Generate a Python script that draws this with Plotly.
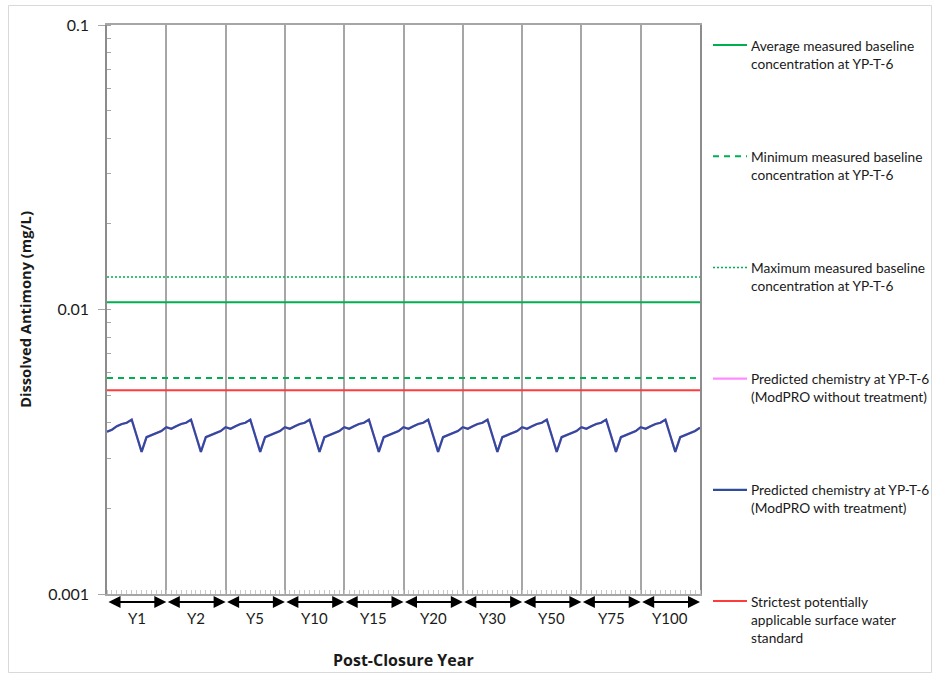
import plotly.graph_objects as go

# ---------------- data ----------------
year_labels = ["Y1", "Y2", "Y5", "Y10", "Y15", "Y20", "Y30", "Y50", "Y75", "Y100"]
months = list(range(121))  # monthly steps across the 10 displayed years (+ closing point)

with_treatment = [
    0.00372, 0.00378, 0.00389, 0.00396, 0.00400, 0.00410, 0.00360, 0.00316, 0.00356, 0.00362, 0.00366, 0.00374,
    0.00386, 0.00381, 0.00389, 0.00396, 0.00400, 0.00410, 0.00360, 0.00316, 0.00356, 0.00362, 0.00366, 0.00374,
    0.00386, 0.00381, 0.00389, 0.00396, 0.00400, 0.00410, 0.00360, 0.00316, 0.00356, 0.00362, 0.00366, 0.00374,
    0.00386, 0.00381, 0.00389, 0.00396, 0.00400, 0.00410, 0.00360, 0.00316, 0.00356, 0.00362, 0.00366, 0.00374,
    0.00386, 0.00381, 0.00389, 0.00396, 0.00400, 0.00410, 0.00360, 0.00316, 0.00356, 0.00362, 0.00366, 0.00374,
    0.00386, 0.00381, 0.00389, 0.00396, 0.00400, 0.00410, 0.00360, 0.00316, 0.00356, 0.00362, 0.00366, 0.00374,
    0.00386, 0.00381, 0.00389, 0.00396, 0.00400, 0.00410, 0.00360, 0.00316, 0.00356, 0.00362, 0.00366, 0.00374,
    0.00386, 0.00381, 0.00389, 0.00396, 0.00400, 0.00410, 0.00360, 0.00316, 0.00356, 0.00362, 0.00366, 0.00374,
    0.00386, 0.00381, 0.00389, 0.00396, 0.00400, 0.00410, 0.00360, 0.00316, 0.00356, 0.00362, 0.00366, 0.00374,
    0.00386, 0.00381, 0.00389, 0.00396, 0.00400, 0.00410, 0.00360, 0.00316, 0.00356, 0.00362, 0.00366, 0.00374,
    0.00384,
]
without_treatment = list(with_treatment)  # plotted beneath and hidden by the treated series

avg_baseline = 0.0106
min_baseline = 0.00574
max_baseline = 0.0130
surface_standard = 0.0052

y_tick_vals = [0.001, 0.01, 0.1]
y_tick_text = ["0.001", "0.01", "0.1"]

series_names = [
    "Average measured baseline<br>concentration at YP-T-6",
    "Minimum measured baseline<br>concentration at YP-T-6",
    "Maximum measured baseline<br>concentration at YP-T-6",
    "Predicted chemistry at YP-T-6<br>(ModPRO without treatment)",
    "Predicted chemistry at YP-T-6<br>(ModPRO with treatment)",
    "Strictest potentially<br>applicable surface water<br>standard",
]

# ---------------- styling ----------------
FONT = "Lato"
TFONT = "Open Sans"
TXT = "#1a1a1a"
GRID = "#a6a6a6"
GREEN = "#00b050"
RED = "#ff3b3b"
PINK = "#ff8cff"
BLUE = "#2f4b9b"

W, H = 933, 674
L, R, T, B = 107, 233, 25, 80
PW, PH = W - L - R, H - T - B


def px_x(px):
    return (px - L) / PW


def px_y(py):
    return (H - B - py) / PH


styles = [
    dict(color=GREEN, width=2),
    dict(color=GREEN, width=2, dash="6px,5px"),
    dict(color=GREEN, width=1.5, dash="2px,2px"),
    dict(color=PINK, width=2.2),
    dict(color=BLUE, width=2.2),
    dict(color=RED, width=2),
]

fig = go.Figure()
x_span = [months[0], months[-1]]

fig.add_trace(go.Scatter(x=months, y=without_treatment, mode="lines", line=styles[3],
                         name=series_names[3].replace("<br>", " ")))
fig.add_trace(go.Scatter(x=x_span, y=[avg_baseline] * 2, mode="lines", line=styles[0],
                         name=series_names[0].replace("<br>", " ")))
fig.add_trace(go.Scatter(x=x_span, y=[min_baseline] * 2, mode="lines", line=styles[1],
                         name=series_names[1].replace("<br>", " ")))
fig.add_trace(go.Scatter(x=x_span, y=[max_baseline] * 2, mode="lines", line=styles[2],
                         name=series_names[2].replace("<br>", " ")))
fig.add_trace(go.Scatter(x=x_span, y=[surface_standard] * 2, mode="lines", line=styles[5],
                         name=series_names[5].replace("<br>", " ")))
fig.add_trace(go.Scatter(x=months, y=with_treatment, mode="lines", line=styles[4],
                         name=series_names[4].replace("<br>", " ")))

annotations = []
shapes = [dict(type="rect", xref="paper", yref="paper",
               x0=px_x(8.5), x1=px_x(931.5), y0=px_y(672.5), y1=px_y(5.5),
               line=dict(color="#d9d9d9", width=1), layer="below")]

n_years = len(year_labels)
for i, lab in enumerate(year_labels):
    x0, x1 = 12 * i, 12 * (i + 1)
    annotations.append(dict(x=(x0 + x1) / 2, y=px_y(618), xref="x", yref="paper",
                            text=lab, showarrow=False, yanchor="middle",
                            font=dict(family=FONT, size=15, color=TXT)))
    annotations.append(dict(x=x1, y=px_y(602), xref="x", yref="paper",
                            ax=x0, ay=0, axref="x", ayref="pixel",
                            text="", showarrow=True, arrowside="end+start",
                            arrowhead=2, arrowsize=1.2, arrowwidth=2, arrowcolor="#000000",
                            standoff=0, startstandoff=0))

annotations.append(dict(x=0.5, y=px_y(660), xref="paper", yref="paper",
                        text="<b>Post-Closure Year</b>", showarrow=False, yanchor="middle",
                        font=dict(family=TFONT, size=16, color=TXT)))

# legend drawn at the right, one entry per series (Excel-like spacing)
LEG_TOP, LEG_PITCH = 45, 111.2
for k, (nm, st) in enumerate(zip(series_names, styles)):
    yc = LEG_TOP + k * LEG_PITCH
    shapes.append(dict(type="line", xref="paper", yref="paper",
                       x0=px_x(713), x1=px_x(747), y0=px_y(yc), y1=px_y(yc), line=st))
    annotations.append(dict(x=px_x(749), y=px_y(yc - 10.5), xref="paper", yref="paper",
                            text=nm, showarrow=False, xanchor="left", yanchor="top", align="left",
                            font=dict(family=FONT, size=13.7, color=TXT)))

fig.update_layout(
    width=W, height=H,
    margin=dict(l=L, r=R, t=T, b=B),
    paper_bgcolor="white", plot_bgcolor="white",
    font=dict(family=FONT, color=TXT),
    showlegend=False,
    annotations=annotations,
    shapes=shapes,
    xaxis=dict(range=[0, 120], tickvals=[12 * k for k in range(n_years + 1)],
               showticklabels=False, ticks="", showgrid=True, gridcolor=GRID, gridwidth=1.5,
               showline=True, linecolor=GRID, linewidth=1.5, mirror=True, zeroline=False,
               minor=dict(ticks="inside", ticklen=4, tickcolor="#c8c8c8", dtick=1, showgrid=False)),
    yaxis=dict(type="log", range=[-3, -1], tickvals=y_tick_vals, ticktext=y_tick_text,
               ticks="outside", ticklen=7, tickcolor=GRID, tickwidth=1.2,
               showgrid=False, zeroline=False,
               showline=True, linecolor="#8c8c8c", linewidth=1.5, mirror=True,
               tickfont=dict(family=FONT, size=16, color=TXT), ticklabelstandoff=6,
               title=dict(text="<b>Dissolved Antimony (mg/L)</b>", standoff=13,
                          font=dict(family=TFONT, size=14.7, color=TXT)),
               minor=dict(ticks="inside", ticklen=4, tickcolor=GRID, dtick="D1", showgrid=False)),
)

fig.write_html("out.html", config={"displayModeBar": False},
               post_script="document.body.style.margin='0';")
